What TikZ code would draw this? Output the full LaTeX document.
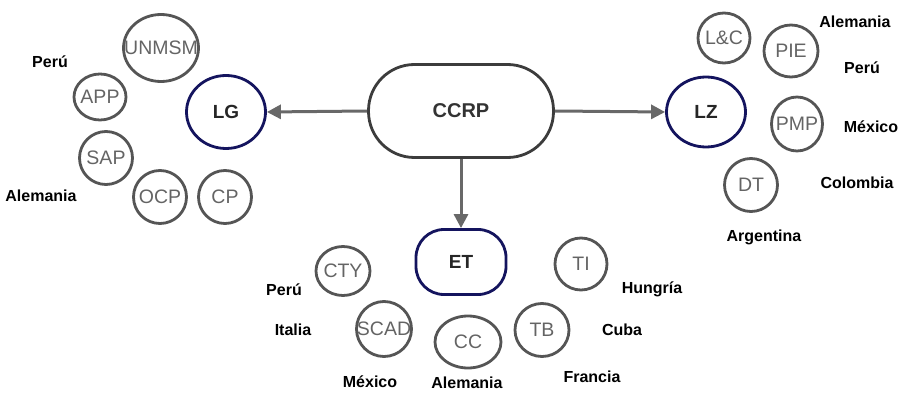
\documentclass[tikz,border=0pt]{standalone}
\usepackage{fontspec}
\setmainfont{Liberation Sans}
\usetikzlibrary{shapes.geometric,arrows.meta}

\definecolor{orgline}{HTML}{555555}
\definecolor{orgtext}{HTML}{646464}
\definecolor{navyline}{HTML}{14145E}
\definecolor{mainline}{HTML}{3C3C3C}
\definecolor{arrowgray}{HTML}{686868}

\begin{document}
\begin{tikzpicture}[
    x=1pt, y=-1pt,
    main/.style={rectangle, rounded corners=46pt, draw=mainline, line width=2.8pt,
                 minimum width=185pt, minimum height=93pt, text=black!80,
                 font=\bfseries\fontsize{20}{20}\selectfont},
    group/.style={ellipse, draw=navyline, line width=2.8pt, inner sep=0pt,
                  text=black!85, font=\bfseries\fontsize{19}{19}\selectfont},
    org/.style={ellipse, draw=orgline, line width=2.8pt, inner xsep=-11pt, inner ysep=-5pt,
                minimum width=53pt, minimum height=53pt, text=orgtext,
                font=\fontsize{19.5}{19.5}\selectfont},
    country/.style={font=\bfseries\fontsize{16}{16}\selectfont},
    arrow/.style={-{Triangle[length=14pt, width=14pt]}, line width=3pt, draw=arrowgray}
]
\useasboundingbox (0,0) rectangle (900,393);

% Centre
\node[main] (ccrp) at (461,111) {CCRP};

% Groups
\node[group, minimum width=79pt, minimum height=73pt] (lg) at (226,112) {LG};
\node[group, minimum width=79pt, minimum height=70pt] (lz) at (706,112) {LZ};
\node[rectangle, rounded corners=28pt, draw=navyline, line width=2.8pt,
      minimum width=90pt, minimum height=65pt, text=black!85,
      font=\bfseries\fontsize{19}{19}\selectfont] (et) at (461,262) {ET};

% Left cluster
\node[org, minimum width=75pt, minimum height=67pt] (unmsm) at (161,48) {UNMSM};
\node[org, minimum width=52pt, minimum height=46pt] (app) at (100,97) {APP};
\node[org] (sap) at (106,158) {SAP};
\node[org] (ocp) at (160,197) {OCP};
\node[org] (cp) at (225,197) {CP};
\node[country] (lperu) at (50,62) {Perú};
\node[country] (lalem) at (41,196) {Alemania};

% Right cluster
\node[org, minimum width=52pt, minimum height=50pt] (lc) at (724,38) {L\&C};
\node[org, minimum width=54pt, minimum height=52pt] (pie) at (791,51) {PIE};
\node[org, minimum width=51pt, minimum height=54pt] (pmp) at (797,124) {PMP};
\node[org] (dt) at (751,185) {DT};
\node[country] (ralem) at (855,22) {Alemania};
\node[country] (rperu) at (862,68) {Perú};
\node[country] (rmex) at (871,127) {México};
\node[country] (rcol) at (857,183) {Colombia};
\node[country] (rarg) at (764,237) {Argentina};

% Bottom cluster
\node[org, minimum width=54pt, minimum height=49pt] (cty) at (343,271) {CTY};
\node[org, minimum width=55pt, minimum height=55pt] (scad) at (384,329) {SCAD};
\node[org, minimum width=66pt, minimum height=52pt] (cc) at (468,342) {CC};
\node[org, minimum width=54pt, minimum height=53pt] (tb) at (542,330) {TB};
\node[org, minimum width=52pt, minimum height=52pt] (ti) at (581,264) {TI};
\node[country] (bperu) at (284,290) {Perú};
\node[country] (bital) at (293,330) {Italia};
\node[country] (bmex) at (370,382) {México};
\node[country] (balem) at (467,383) {Alemania};
\node[country] (bhun) at (652,289) {Hungría};
\node[country] (bcuba) at (622,330) {Cuba};
\node[country] (bfra) at (592,377) {Francia};

% Arrows
\draw[arrow] (ccrp.west) -- (lg.east);
\draw[arrow] (ccrp.east) -- (lz.west);
\draw[arrow] (ccrp.south) -- (et.north);

\end{tikzpicture}
\end{document}
